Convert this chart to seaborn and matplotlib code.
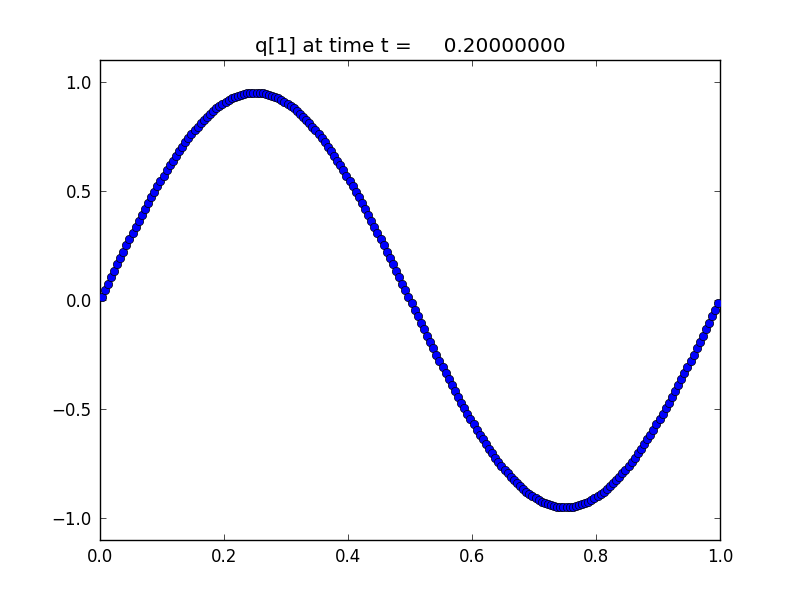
import matplotlib
matplotlib.use("Agg")
import matplotlib.pyplot as plt
import seaborn as sns

# ---------------------------
# Data (cell centres and q[1] values)
# ---------------------------
x_centers = [
    0.0025, 0.0075, 0.0125, 0.0175, 0.0225, 0.0275, 0.0325, 0.0375, 0.0425, 0.0475,
    0.0525, 0.0575, 0.0625, 0.0675, 0.0725, 0.0775, 0.0825, 0.0875, 0.0925, 0.0975,
    0.1025, 0.1075, 0.1125, 0.1175, 0.1225, 0.1275, 0.1325, 0.1375, 0.1425, 0.1475,
    0.1525, 0.1575, 0.1625, 0.1675, 0.1725, 0.1775, 0.1825, 0.1875, 0.1925, 0.1975,
    0.2025, 0.2075, 0.2125, 0.2175, 0.2225, 0.2275, 0.2325, 0.2375, 0.2425, 0.2475,
    0.2525, 0.2575, 0.2625, 0.2675, 0.2725, 0.2775, 0.2825, 0.2875, 0.2925, 0.2975,
    0.3025, 0.3075, 0.3125, 0.3175, 0.3225, 0.3275, 0.3325, 0.3375, 0.3425, 0.3475,
    0.3525, 0.3575, 0.3625, 0.3675, 0.3725, 0.3775, 0.3825, 0.3875, 0.3925, 0.3975,
    0.4025, 0.4075, 0.4125, 0.4175, 0.4225, 0.4275, 0.4325, 0.4375, 0.4425, 0.4475,
    0.4525, 0.4575, 0.4625, 0.4675, 0.4725, 0.4775, 0.4825, 0.4875, 0.4925, 0.4975,
    0.5025, 0.5075, 0.5125, 0.5175, 0.5225, 0.5275, 0.5325, 0.5375, 0.5425, 0.5475,
    0.5525, 0.5575, 0.5625, 0.5675, 0.5725, 0.5775, 0.5825, 0.5875, 0.5925, 0.5975,
    0.6025, 0.6075, 0.6125, 0.6175, 0.6225, 0.6275, 0.6325, 0.6375, 0.6425, 0.6475,
    0.6525, 0.6575, 0.6625, 0.6675, 0.6725, 0.6775, 0.6825, 0.6875, 0.6925, 0.6975,
    0.7025, 0.7075, 0.7125, 0.7175, 0.7225, 0.7275, 0.7325, 0.7375, 0.7425, 0.7475,
    0.7525, 0.7575, 0.7625, 0.7675, 0.7725, 0.7775, 0.7825, 0.7875, 0.7925, 0.7975,
    0.8025, 0.8075, 0.8125, 0.8175, 0.8225, 0.8275, 0.8325, 0.8375, 0.8425, 0.8475,
    0.8525, 0.8575, 0.8625, 0.8675, 0.8725, 0.8775, 0.8825, 0.8875, 0.8925, 0.8975,
    0.9025, 0.9075, 0.9125, 0.9175, 0.9225, 0.9275, 0.9325, 0.9375, 0.9425, 0.9475,
    0.9525, 0.9575, 0.9625, 0.9675, 0.9725, 0.9775, 0.9825, 0.9875, 0.9925, 0.9975,
]

q1_values = [
    0.015, 0.045, 0.075, 0.104, 0.134, 0.163, 0.193, 0.222, 0.251, 0.279,
    0.308, 0.336, 0.364, 0.391, 0.418, 0.445, 0.471, 0.496, 0.522, 0.546,
    0.570, 0.594, 0.617, 0.639, 0.661, 0.682, 0.703, 0.722, 0.741, 0.760,
    0.777, 0.794, 0.810, 0.825, 0.840, 0.853, 0.866, 0.878, 0.889, 0.899,
    0.908, 0.916, 0.924, 0.930, 0.936, 0.941, 0.944, 0.947, 0.949, 0.950,
    0.950, 0.949, 0.947, 0.944, 0.941, 0.936, 0.930, 0.924, 0.916, 0.908,
    0.899, 0.889, 0.878, 0.866, 0.853, 0.840, 0.825, 0.810, 0.794, 0.777,
    0.760, 0.741, 0.722, 0.703, 0.682, 0.661, 0.639, 0.617, 0.594, 0.570,
    0.546, 0.522, 0.496, 0.471, 0.445, 0.418, 0.391, 0.364, 0.336, 0.308,
    0.279, 0.251, 0.222, 0.193, 0.163, 0.134, 0.104, 0.075, 0.045, 0.015,
    -0.015, -0.045, -0.075, -0.104, -0.134, -0.163, -0.193, -0.222, -0.251, -0.279,
    -0.308, -0.336, -0.364, -0.391, -0.418, -0.445, -0.471, -0.496, -0.522, -0.546,
    -0.570, -0.594, -0.617, -0.639, -0.661, -0.682, -0.703, -0.722, -0.741, -0.760,
    -0.777, -0.794, -0.810, -0.825, -0.840, -0.853, -0.866, -0.878, -0.889, -0.899,
    -0.908, -0.916, -0.924, -0.930, -0.936, -0.941, -0.944, -0.947, -0.949, -0.950,
    -0.950, -0.949, -0.947, -0.944, -0.941, -0.936, -0.930, -0.924, -0.916, -0.908,
    -0.899, -0.889, -0.878, -0.866, -0.853, -0.840, -0.825, -0.810, -0.794, -0.777,
    -0.760, -0.741, -0.722, -0.703, -0.682, -0.661, -0.639, -0.617, -0.594, -0.570,
    -0.546, -0.522, -0.496, -0.471, -0.445, -0.418, -0.391, -0.364, -0.336, -0.308,
    -0.279, -0.251, -0.222, -0.193, -0.163, -0.134, -0.104, -0.075, -0.045, -0.015,
]

x_ticks = [0.0, 0.2, 0.4, 0.6, 0.8, 1.0]
y_ticks = [-1.0, -0.5, 0.0, 0.5, 1.0]
title_text = "q[1] at time t =     0.20000000"

# ---------------------------
# Old-style matplotlib look
# ---------------------------
sns.set_style("ticks")
plt.rcParams.update({
    "font.family": ["DejaVu Sans"],
    "text.color": "black",
    "axes.titlecolor": "black",
    "xtick.direction": "in",
    "ytick.direction": "in",
    "xtick.top": True,
    "ytick.right": True,
    "xtick.major.size": 4,
    "ytick.major.size": 4,
    "xtick.major.width": 0.5,
    "ytick.major.width": 0.5,
    "xtick.labelsize": 12,
    "ytick.labelsize": 12,
    "xtick.color": "black",
    "ytick.color": "black",
    "axes.edgecolor": "black",
    "axes.linewidth": 1.0,
    "xtick.major.pad": 6,
    "ytick.major.pad": 6,
})

fig = plt.figure(figsize=(8, 6), dpi=100)
ax = fig.add_axes([0.125, 0.1, 0.775, 0.8])

sns.scatterplot(x=x_centers, y=q1_values, ax=ax, color="blue",
                edgecolor="black", linewidth=0.5, s=36, zorder=3)

ax.set_xlim(0, 1)
ax.set_ylim(-1.1, 1.1)
ax.set_xticks(x_ticks)
ax.set_yticks(y_ticks)
ax.set_title(title_text, fontsize=14.4, color="black")

for side in ["top", "right", "bottom", "left"]:
    ax.spines[side].set_visible(True)

fig.savefig("out.png", dpi=100)
